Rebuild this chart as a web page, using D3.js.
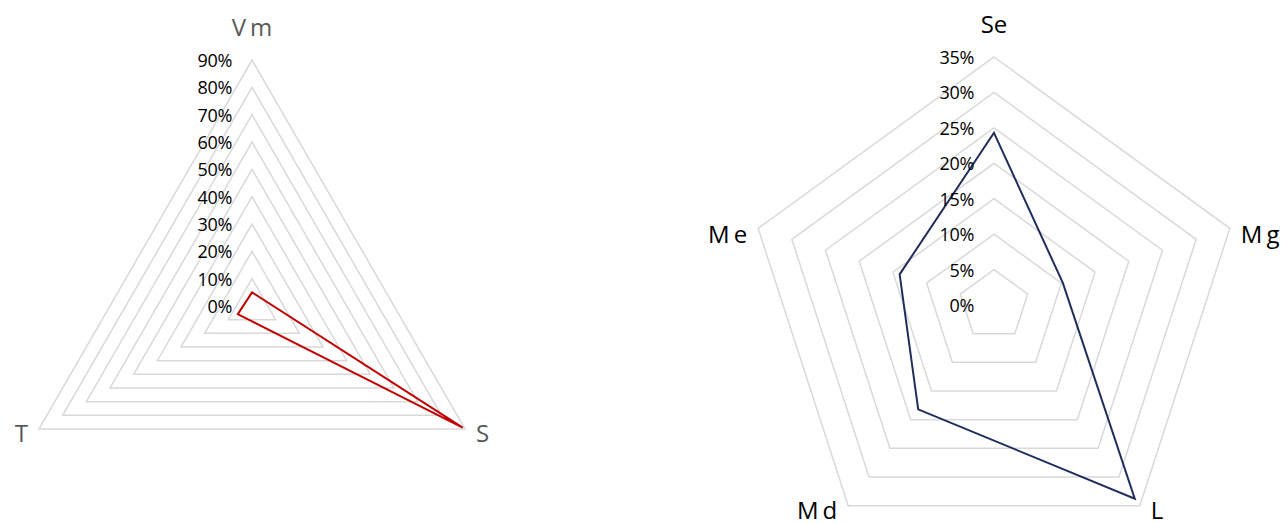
<!DOCTYPE html>
<html>
<head>
<meta charset="utf-8">
<script src="https://cdn.jsdelivr.net/npm/d3@7"></script>
<style>
  body { margin: 0; background: #fff; }
  svg { display: block; font-family: "Open Sans", "Noto Sans", sans-serif; }
</style>
</head>
<body>
<svg id="chart" width="1287" height="524"></svg>
<script>
// Left radar: three categories
const leftCats = ["Vm", "S", "T"];
const leftVals = [0.05, 0.89, 0.06];
const leftTicks = [0, 0.1, 0.2, 0.3, 0.4, 0.5, 0.6, 0.7, 0.8, 0.9];

// Right radar: five categories
const rightCats = ["Se", "Mg", "L", "Md", "Me"];
const rightVals = [0.243, 0.102, 0.338, 0.182, 0.14];
const rightTicks = [0, 0.05, 0.1, 0.15, 0.2, 0.25, 0.3, 0.35];

const svg = d3.select("#chart");
const pct = d3.format(".0%");

function radar(cfg) {
  const g = svg.append("g").attr("transform", `translate(${cfg.cx},${cfg.cy})`);
  const n = cfg.cats.length;
  const maxV = cfg.ticks[cfg.ticks.length - 1];

  const r = d3.scaleLinear().domain([0, maxV]).range([0, cfg.radius]);
  const angle = d3.scaleLinear().domain([0, n]).range([0, 2 * Math.PI]);

  const ring = d3.lineRadial()
    .angle((d, i) => angle(i))
    .radius(d => r(d))
    .curve(d3.curveLinearClosed);

  // grid rings (0 is just the centre)
  g.append("g").selectAll("path")
    .data(cfg.ticks.filter(t => t > 0))
    .join("path")
      .attr("d", t => ring(d3.range(n).map(() => t)))
      .attr("fill", "none")
      .attr("stroke", "#d9d9d9")
      .attr("stroke-width", 1.5);

  // series
  g.append("path")
    .attr("d", ring(cfg.vals))
    .attr("fill", "none")
    .attr("stroke", cfg.color)
    .attr("stroke-width", 2);

  // tick labels
  g.append("g").selectAll("text")
    .data(cfg.ticks)
    .join("text")
      .attr("x", -20)
      .attr("y", t => -r(t))
      .attr("text-anchor", "end")
      .attr("dominant-baseline", "central")
      .attr("font-size", 18)
      .attr("letter-spacing", -0.3)
      .attr("fill", "#000")
      .text(t => pct(t));

  // category labels
  g.append("g").selectAll("text")
    .data(cfg.cats)
    .join("text")
      .attr("font-size", 24)
      .attr("fill", cfg.labelColor)
      .each(function(d, i) {
        const a = angle(i);
        const vx = Math.sin(a) * cfg.radius;
        const vy = -Math.cos(a) * cfg.radius;
        const t = d3.select(this);
        if (Math.abs(Math.sin(a)) < 0.01) {
          t.attr("x", vx).attr("y", vy - 24).attr("text-anchor", "middle");
        } else {
          t.attr("x", vx + (Math.sin(a) > 0 ? 11 : -11))
            .attr("y", vy + (vy > 0 ? 3 : 5))
            .attr("text-anchor", Math.sin(a) > 0 ? "start" : "end")
            .attr("dominant-baseline", "central");
        }
        t.append("tspan").text(d[0]);
        // the wide letter gap shows after M and V only
        if (d.length > 1) {
          t.append("tspan")
            .attr("dx", /[MV]/.test(d[0]) ? cfg.gap : 0)
            .text(d.slice(1));
        }
      });
}

radar({
  cats: leftCats, vals: leftVals, ticks: leftTicks,
  cx: 252, cy: 306, radius: 246,
  color: "#c00000", labelColor: "#595959", gap: 4
});

radar({
  cats: rightCats, vals: rightVals, ticks: rightTicks,
  cx: 994, cy: 305, radius: 248,
  color: "#1f2d5a", labelColor: "#000", gap: 4
});
</script>
</body>
</html>
